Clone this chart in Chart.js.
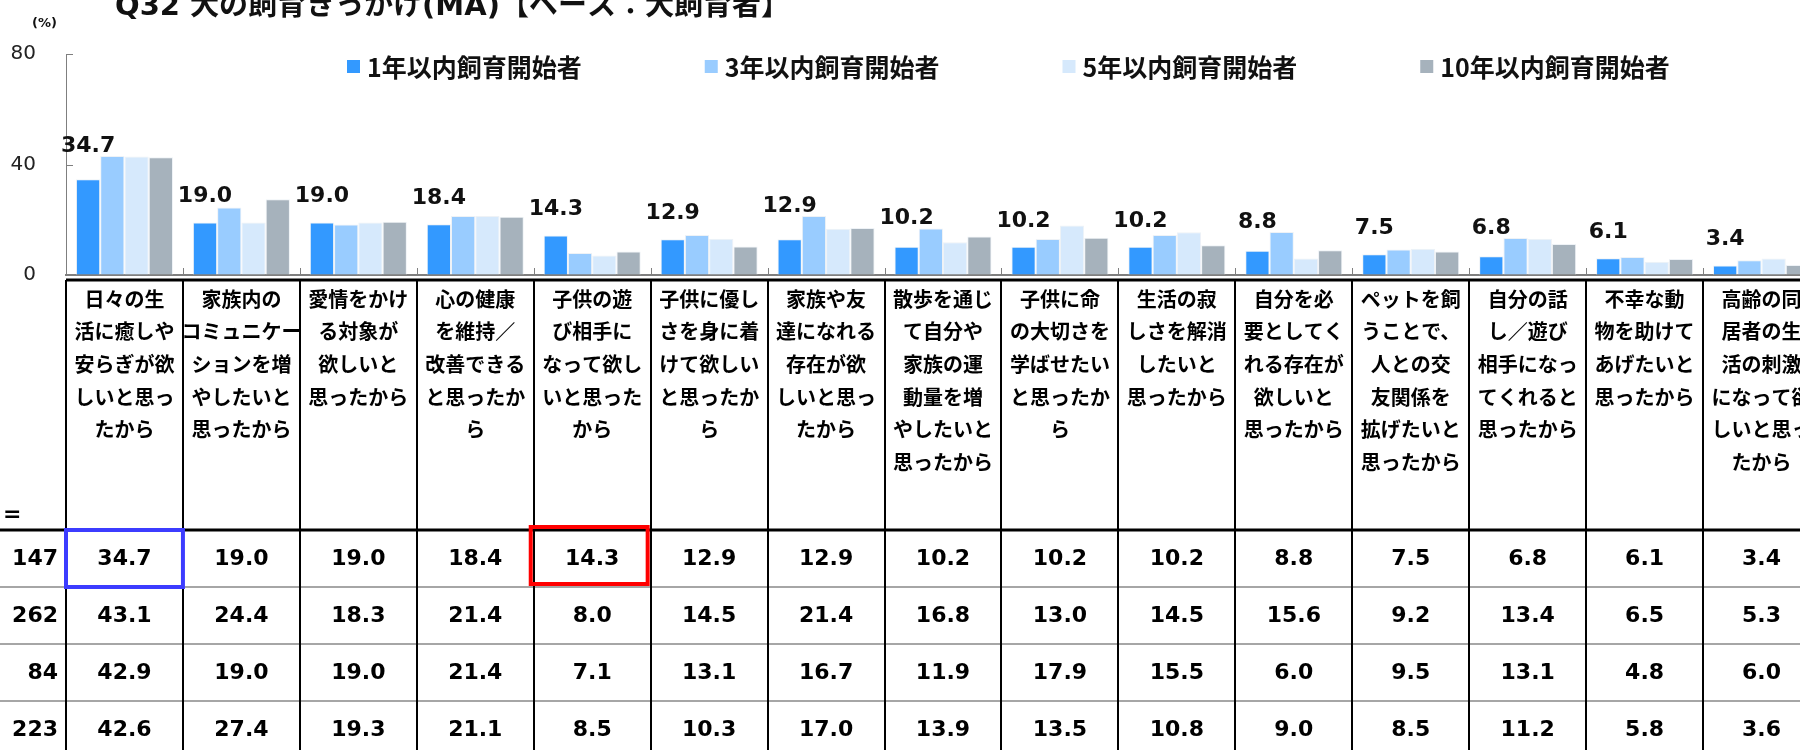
<!DOCTYPE html>
<html>
<head>
<meta charset="utf-8">
<script src="https://cdn.jsdelivr.net/npm/chart.js"></script>
<style>
html, body { margin: 0; padding: 0; background: #fff; overflow: hidden; }
#wrap { width: 1820px; height: 750px; }
</style>
</head>
<body>
<div id="wrap"><canvas id="myChart" width="1820" height="750"></canvas></div>
<script>
var title = 'Q32 犬の飼育きっかけ(MA)【ベース：犬飼育者】';
var unitLabel = '(%)';

// category labels, one entry per line as in the table header
var categories = [
  ['日々の生', '活に癒しや', '安らぎが欲', 'しいと思っ', 'たから'],
  ['家族内の', 'コミュニケー', 'ションを増', 'やしたいと', '思ったから'],
  ['愛情をかけ', 'る対象が', '欲しいと', '思ったから'],
  ['心の健康', 'を維持／', '改善できる', 'と思ったか', 'ら'],
  ['子供の遊', 'び相手に', 'なって欲し', 'いと思った', 'から'],
  ['子供に優し', 'さを身に着', 'けて欲しい', 'と思ったか', 'ら'],
  ['家族や友', '達になれる', '存在が欲', 'しいと思っ', 'たから'],
  ['散歩を通じ', 'て自分や', '家族の運', '動量を増', 'やしたいと', '思ったから'],
  ['子供に命', 'の大切さを', '学ばせたい', 'と思ったか', 'ら'],
  ['生活の寂', 'しさを解消', 'したいと', '思ったから'],
  ['自分を必', '要としてく', 'れる存在が', '欲しいと', '思ったから'],
  ['ペットを飼', 'うことで、', '人との交', '友関係を', '拡げたいと', '思ったから'],
  ['自分の話', 'し／遊び', '相手になっ', 'てくれると', '思ったから'],
  ['不幸な動', '物を助けて', 'あげたいと', '思ったから'],
  ['高齢の同', '居者の生', '活の刺激', 'になって欲', 'しいと思っ', 'たから']
];

var seriesNames = ['1年以内飼育開始者', '3年以内飼育開始者', '5年以内飼育開始者', '10年以内飼育開始者'];
var sampleSizes = [147, 262, 84, 223];

var within1 = [34.7, 19.0, 19.0, 18.4, 14.3, 12.9, 12.9, 10.2, 10.2, 10.2, 8.8, 7.5, 6.8, 6.1, 3.4];
var within3 = [43.1, 24.4, 18.3, 21.4, 8.0, 14.5, 21.4, 16.8, 13.0, 14.5, 15.6, 9.2, 13.4, 6.5, 5.3];
var within5 = [42.9, 19.0, 19.0, 21.4, 7.1, 13.1, 16.7, 11.9, 17.9, 15.5, 6.0, 9.5, 13.1, 4.8, 6.0];
var within10 = [42.6, 27.4, 19.3, 21.1, 8.5, 10.3, 17.0, 13.9, 13.5, 10.8, 9.0, 8.5, 11.2, 5.8, 3.6];

var yTicks = [0, 40, 80];

// highlighted table cells: [row, column]
var blueCell = [0, 0];
var redCell = [0, 4];

var seriesColors = ['#3399ff', '#99ccff', '#d6e9fc', '#a6b2bc'];
var allSeries = [within1, within3, within5, within10];

var numFont = '"DejaVu Sans", "Noto Sans CJK JP", sans-serif';
var jpFont = '"Noto Sans CJK JP", "DejaVu Sans", sans-serif';

function line(ctx, x1, y1, x2, y2) {
  ctx.beginPath();
  ctx.moveTo(x1, y1);
  ctx.lineTo(x2, y2);
  ctx.stroke();
}

// everything drawn around the plot: title, legend, labels, table
var decorPlugin = {
  id: 'decor',
  afterDraw: function(chart) {
    var ctx = chart.ctx;
    var xs = chart.scales.x, ys = chart.scales.y;
    var n = categories.length;
    var cw = (xs.right - xs.left) / n;
    var W = chart.width, H = chart.height;
    var tableTop = 280, headBottom = 530, rowH = 57;

    ctx.save();

    // title (cut at top like the source)
    ctx.fillStyle = '#111';
    ctx.font = 'bold 29px ' + numFont;
    ctx.textAlign = 'left';
    ctx.textBaseline = 'alphabetic';
    ctx.fillText(title, 115, 15);

    ctx.font = 'bold 13px ' + numFont;
    ctx.textBaseline = 'middle';
    ctx.fillText(unitLabel, 32, 24);

    // inward ticks
    ctx.strokeStyle = '#7f7f7f';
    ctx.lineWidth = 1;
    yTicks.forEach(function(v) {
      var py = Math.round(ys.getPixelForValue(v)) + 0.5;
      line(ctx, xs.left, py, xs.left + 7, py);
    });
    for (var i = 1; i < n; i++) {
      var px = Math.round(xs.left + i * cw) + 0.5;
      line(ctx, px, ys.bottom, px, ys.bottom - 7);
    }

    // legend
    ctx.font = 'bold 25px ' + jpFont;
    ctx.textBaseline = 'middle';
    var lx = 347;
    seriesNames.forEach(function(name, k) {
      ctx.fillStyle = seriesColors[k];
      ctx.fillRect(lx, 60, 13, 13);
      ctx.fillStyle = '#111';
      ctx.fillText(name, lx + 20, 67);
      lx += 20 + ctx.measureText(name).width + 123;
    });

    // value labels for the first series
    var m0 = chart.getDatasetMeta(0), m1 = chart.getDatasetMeta(1);
    ctx.font = 'bold 22px ' + numFont;
    ctx.textAlign = 'center';
    ctx.fillStyle = '#111';
    m0.data.forEach(function(bar, i) {
      var ly = Math.min(bar.y - 26, m1.data[i].y - 10);
      ctx.fillText(within1[i].toFixed(1), bar.x, ly);
    });

    // table lines
    ctx.strokeStyle = '#000';
    ctx.lineWidth = 3;
    line(ctx, xs.left, tableTop, W, tableTop);
    line(ctx, 0, headBottom, W, headBottom);
    ctx.strokeStyle = '#a6a6a6';
    ctx.lineWidth = 2;
    for (var r = 1; r <= sampleSizes.length; r++) {
      line(ctx, 0, headBottom + r * rowH, W, headBottom + r * rowH);
    }
    ctx.strokeStyle = '#000';
    ctx.lineWidth = 2;
    for (var c = 0; c <= n; c++) {
      var vx = Math.round(xs.left + c * cw);
      line(ctx, vx, tableTop, vx, H);
    }

    // header texts
    ctx.fillStyle = '#000';
    ctx.font = 'bold 20px ' + jpFont;
    ctx.textAlign = 'center';
    categories.forEach(function(lines, i) {
      var cx = xs.getPixelForValue(i);
      lines.forEach(function(t, k) {
        ctx.fillText(t, cx, 299 + k * 32.7);
      });
    });

    // n column
    ctx.font = 'bold 22px ' + numFont;
    ctx.textAlign = 'left';
    ctx.fillText('=', 3, 515);
    ctx.textAlign = 'right';
    sampleSizes.forEach(function(s, r) {
      ctx.fillText(String(s), xs.left - 8, headBottom + r * rowH + rowH / 2 + 1);
    });

    // values
    ctx.textAlign = 'center';
    allSeries.forEach(function(vals, r) {
      vals.forEach(function(v, i) {
        ctx.fillText(v.toFixed(1), xs.getPixelForValue(i), headBottom + r * rowH + rowH / 2 + 1);
      });
    });

    // highlight boxes
    ctx.lineWidth = 4;
    [[blueCell, '#3c3cff', 0], [redCell, '#ff0000', -3]].forEach(function(h) {
      var cell = h[0];
      var bx = xs.left + cell[1] * cw + h[2];
      var by = headBottom + cell[0] * rowH + h[2];
      ctx.strokeStyle = h[1];
      ctx.strokeRect(bx, by, cw, rowH);
    });

    ctx.restore();
  }
};

var ctx = document.getElementById('myChart').getContext('2d');
var chart = new Chart(ctx, {
  type: 'bar',
  data: {
    labels: categories.map(function(l) { return l.join(''); }),
    datasets: allSeries.map(function(vals, k) {
      return {
        label: seriesNames[k],
        data: vals,
        backgroundColor: seriesColors[k],
        borderColor: '#eef2f6',
        borderWidth: 1,
        categoryPercentage: 0.83,
        barPercentage: 1.0
      };
    })
  },
  options: {
    responsive: false,
    animation: false,
    devicePixelRatio: 1,
    layout: { padding: { top: 54, left: 0, right: 0, bottom: 0 } },
    plugins: {
      legend: { display: false },
      title: { display: false },
      tooltip: { enabled: false }
    },
    scales: {
      x: {
        ticks: { display: false },
        grid: { display: false },
        border: { display: true, color: '#7f7f7f', width: 2 },
        afterFit: function(s) { s.height = 475; }
      },
      y: {
        min: 0,
        max: 80,
        afterBuildTicks: function(s) {
          s.ticks = yTicks.map(function(v) { return { value: v }; });
        },
        ticks: {
          padding: 30,
          color: '#222',
          font: { family: numFont, size: 20 }
        },
        grid: { drawOnChartArea: false, drawTicks: false },
        border: { display: true, color: '#7f7f7f', width: 1 },
        afterFit: function(s) { s.width = 66; }
      }
    }
  },
  plugins: [decorPlugin]
});
</script>
</body>
</html>
